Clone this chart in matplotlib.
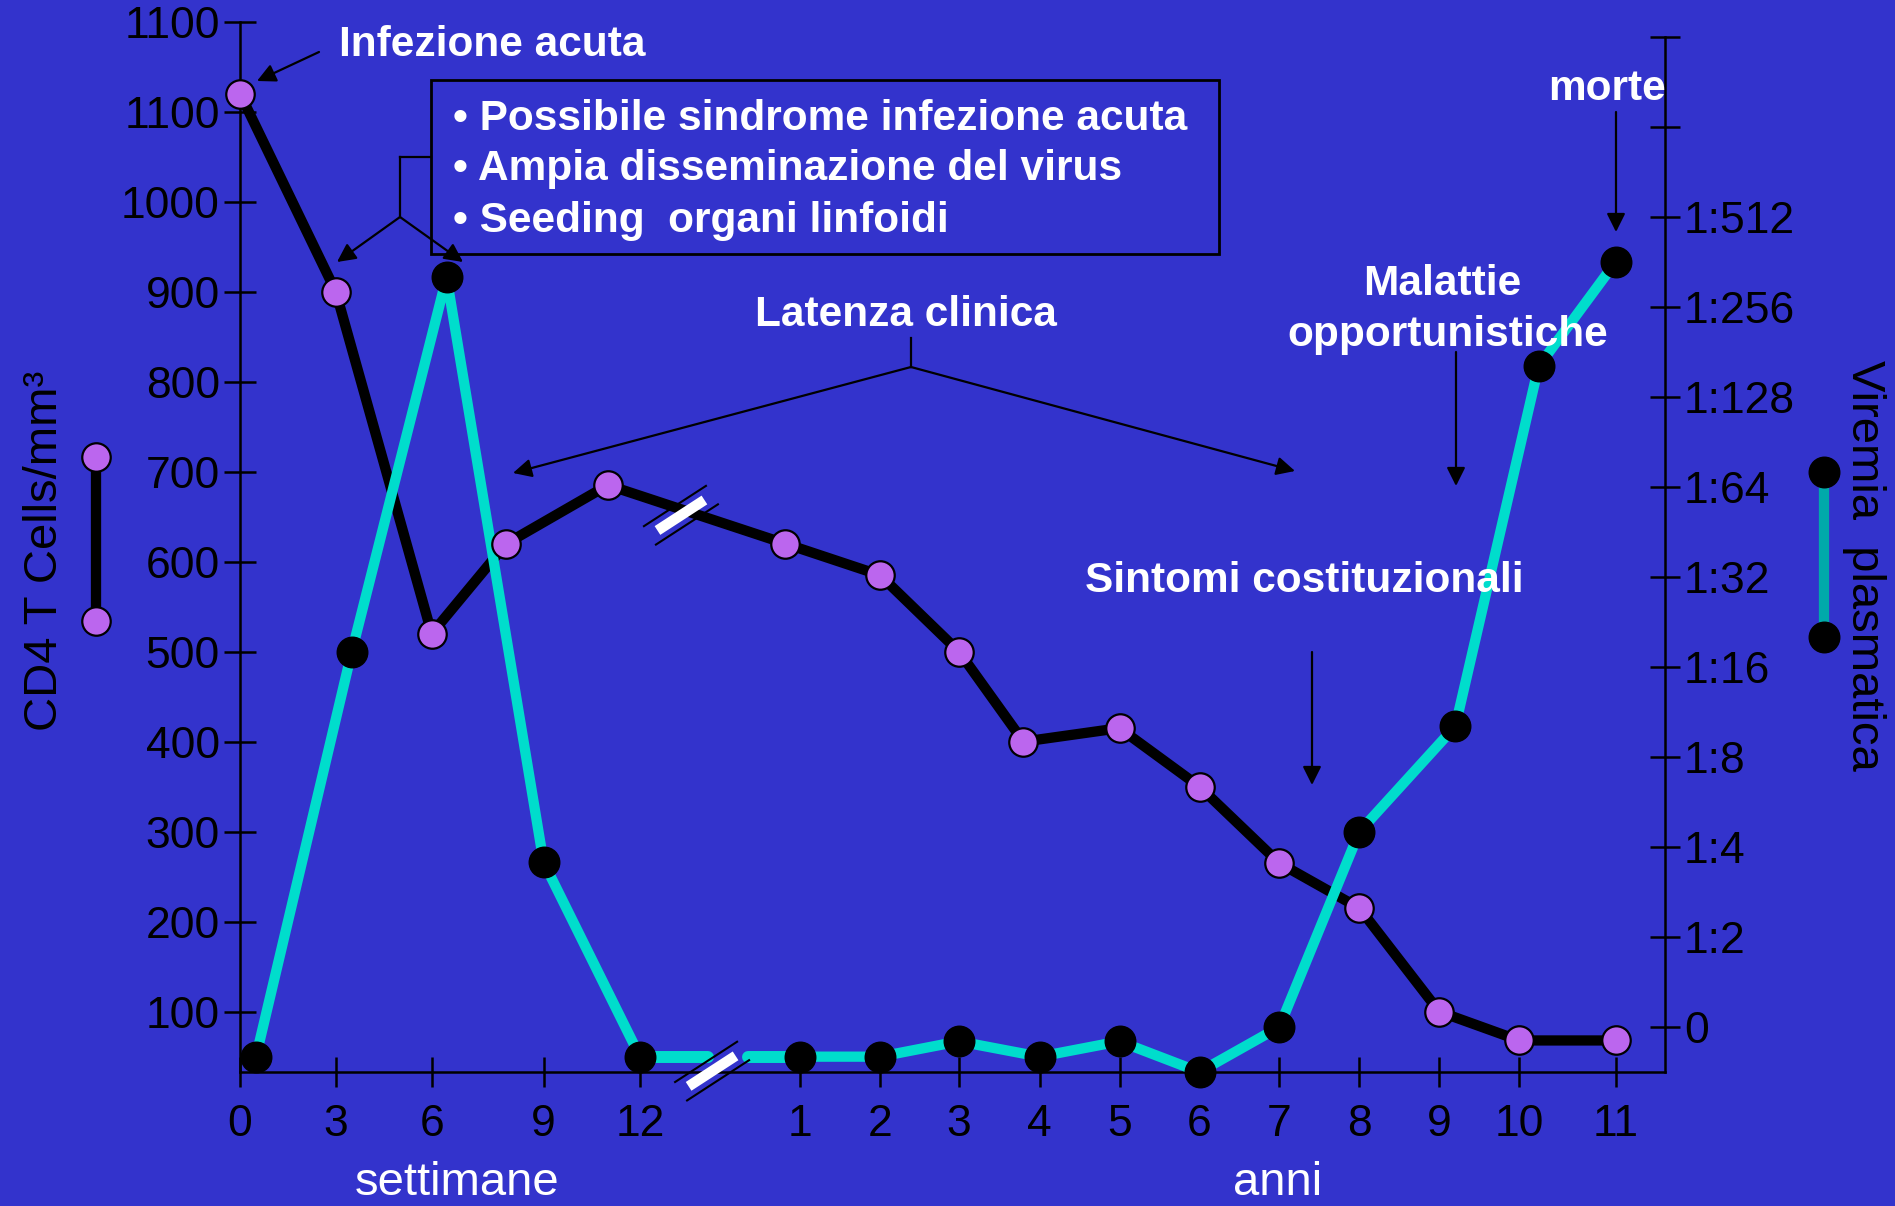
import numpy as np
import matplotlib
matplotlib.use("Agg")
import matplotlib.pyplot as plt
from matplotlib.lines import Line2D
from matplotlib.patches import Rectangle, FancyArrowPatch

plt.rcParams["font.family"] = ["Liberation Sans", "DejaVu Sans"]

W, H = 1895, 1206
BG = "#3333CC"
CYAN = "#00DDCC"
TEAL = "#00AAAA"
PURPLE = "#BB66EE"

# CD4 T cells/mm3 (left axis) - first weeks, then years
cd4_weeks = [0, 3, 6, 8, 11]
cd4_weeks_val = [1120, 900, 520, 620, 685]
cd4_years = [0.93, 2, 3, 3.8, 5, 6, 7, 8, 9, 10, 11]
cd4_years_val = [620, 585, 500, 400, 415, 350, 265, 215, 100, 68, 68]

# plasma viremia in doubling steps (0 = "0", 1 = 1:2 ... 9 = 1:512)
vir_weeks = [0.5, 3.5, 6.4, 9, 12]
vir_weeks_val = [-0.33, 4.17, 8.33, 1.83, -0.33]
vir_years = [1, 2, 3, 4, 5, 6, 7, 8, 9.2, 10.2, 11]
vir_years_val = [-0.33, -0.33, -0.16, -0.33, -0.16, -0.5, 0.0, 2.17, 3.34, 7.34, 8.5]

week_ticks = [0, 3, 6, 9, 12]
year_ticks = [1, 2, 3, 4, 5, 6, 7, 8, 9, 10, 11]
left_ticks = [100, 200, 300, 400, 500, 600, 700, 800, 900, 1000, 1100, 1200]
left_labels = ["100", "200", "300", "400", "500", "600", "700", "800", "900",
               "1000", "1100", "1100"]
right_ticks = list(range(12))
right_labels = ["0", "1:2", "1:4", "1:8", "1:16", "1:32", "1:64", "1:128",
                "1:256", "1:512", "", ""]

# hand drawn time axis: tick spacing is not regular in the original slide
anchor_t = [w / 52 for w in week_ticks] + year_ticks + [11.51]
anchor_u = [240, 335.8, 431.7, 543.6, 640, 799.7, 880, 959, 1039.6, 1119.5,
            1199.5, 1279.4, 1359.4, 1439.3, 1519.3, 1615.7, 1664.6]


def fwd(t):
    return np.interp(t, anchor_t, anchor_u)


def inv(u):
    return np.interp(u, anchor_u, anchor_t)


# right axis step -> left axis units (one step = 100 cells)
def lvl(v):
    return 83 + 100 * np.asarray(v, dtype=float)


def px(x, y):  # image pixel -> figure fraction
    return (x / W, 1 - y / H)


fig = plt.figure(figsize=(W / 100, H / 100), dpi=100)
fig.patch.set_facecolor(BG)

x0, x1, ytop, ybot = 240, 1664.6, 21.6, 1071.6
ax = fig.add_axes([x0 / W, 1 - ybot / H, (x1 - x0) / W, (ybot - ytop) / H])
ax.set_facecolor("none")
ax.set_xscale("function", functions=(fwd, inv))
ax.set_xlim(0, 11.51)
ax.set_ylim(33.4, 1200)
ax2 = ax.twinx()
ax2.set_ylim(-0.496, 11.17)
ax2.set_facecolor("none")
ax.set_zorder(2)
ax2.set_zorder(1)

for s in ["top", "right"]:
    ax.spines[s].set_visible(False)
for s in ["top", "left", "bottom"]:
    ax2.spines[s].set_visible(False)
for sp in [ax.spines["left"], ax.spines["bottom"], ax2.spines["right"]]:
    sp.set_linewidth(1.8)
    sp.set_color("black")
ax2.spines["right"].set_bounds(-0.496, 11)

ax.set_xticks([w / 52 for w in week_ticks] + year_ticks)
ax.set_xticklabels([str(v) for v in week_ticks + year_ticks])
ax.set_yticks(left_ticks)
ax.set_yticklabels(left_labels)
ax2.set_yticks(right_ticks)
ax2.set_yticklabels(right_labels)
ax.tick_params(axis="y", direction="inout", length=23, width=1.8, labelsize=32, pad=3)
ax.tick_params(axis="x", direction="inout", length=22, width=1.8, labelsize=32, pad=12)
ax2.tick_params(axis="y", direction="inout", length=22, width=1.8, labelsize=32, pad=3)

# CD4 line (black), continuous across the break
cd4_t = [w / 52 for w in cd4_weeks] + cd4_years
cd4_v = cd4_weeks_val + cd4_years_val
ax.plot(cd4_t, cd4_v, color="black", lw=7.4, solid_joinstyle="round", zorder=2)

# viremia line (cyan), gap at the break
gap_a, gap_b = 0.558, 0.751
vir_wt = [w / 52 for w in vir_weeks]
ax.plot(vir_wt, lvl(vir_weeks_val), color=CYAN, lw=7.4, solid_joinstyle="round", zorder=3)
ax.plot([vir_wt[-1], gap_a], lvl([vir_weeks_val[-1]] * 2), color=CYAN, lw=8.6,
        solid_capstyle="round", zorder=3)
ax.plot([gap_b, vir_years[0]], lvl([vir_years_val[0]] * 2), color=CYAN, lw=8.6,
        solid_capstyle="round", zorder=3)
ax.plot(vir_years, lvl(vir_years_val), color=CYAN, lw=7.4, solid_joinstyle="round", zorder=3)

ax.plot(vir_wt + vir_years, lvl(vir_weeks_val + vir_years_val), ls="none", marker="o",
        ms=22, mfc="black", mec="black", zorder=5, clip_on=False)
ax.plot(cd4_t, cd4_v, ls="none", marker="o", ms=20.5, mfc=PURPLE, mec="black",
        mew=1.6, zorder=6, clip_on=False)


def break_mark(cx, cy, ang=33):
    d = np.array([np.cos(np.radians(ang)), np.sin(np.radians(ang))])
    n = np.array([-d[1], d[0]])
    for off, half, col, lw in [(11, 38, "black", 1.5), (-11, 38, "black", 1.5),
                               (0, 28, "white", 7.5)]:
        c = np.array([cx, cy]) + off * n
        p0, p1 = c - half * d, c + half * d
        fig.add_artist(Line2D([p0[0] / W, p1[0] / W], [p0[1] / H, p1[1] / H],
                              transform=fig.transFigure, color=col, lw=lw,
                              solid_capstyle="butt", zorder=10))


fig.canvas.draw()
pa = ax.transData.transform((cd4_t[len(cd4_weeks) - 1], cd4_weeks_val[-1]))
pb = ax.transData.transform((cd4_years[0], cd4_years_val[0]))
bx = ax.transData.transform((0.428, 500))[0]
break_mark(bx, np.interp(bx, [pa[0], pb[0]], [pa[1], pb[1]]) - 6)
break_mark(ax.transData.transform((0.578, 500))[0], H - ybot + 0.5)

# legend keys beside the axis titles
fig.add_artist(Line2D([96.2 / W] * 2, [1 - 456.6 / H, 1 - 621 / H], color="black",
                      lw=7.4, marker="o", ms=20.5, mfc=PURPLE, mec="black", mew=1.6,
                      transform=fig.transFigure, zorder=10))
fig.add_artist(Line2D([1824 / W] * 2, [1 - 471.7 / H, 1 - 636.7 / H], color=TEAL,
                      lw=7.4, marker="o", ms=22, mfc="black", mec="black",
                      transform=fig.transFigure, zorder=10))

fig.text(*px(45, 551), "CD4 T Cells/mm³", rotation=90, fontsize=34,
         ha="center", va="center", color="black")
fig.text(*px(1864, 565), "Viremia  plasmatica", rotation=270, fontsize=34,
         ha="center", va="center", color="black")

bold = dict(color="white", fontsize=30.5, fontweight="bold", zorder=11)
fig.text(*px(339, 55.5), "Infezione acuta", ha="left", va="baseline", **bold)
fig.text(*px(453, 130), "• Possibile sindrome infezione acuta", ha="left", va="baseline", **bold)
fig.text(*px(453, 180), "• Ampia disseminazione del virus", ha="left", va="baseline", **bold)
fig.text(*px(453, 232), "• Seeding  organi linfoidi", ha="left", va="baseline", **bold)
fig.text(*px(906, 326), "Latenza clinica", ha="center", va="baseline", **bold)
fig.text(*px(1442, 295), "Malattie", ha="center", va="baseline", **bold)
fig.text(*px(1448, 346), "opportunistiche", ha="center", va="baseline", **bold)
fig.text(*px(1607, 100), "morte", ha="center", va="baseline", **bold)
fig.text(*px(1304, 592), "Sintomi costituzionali", ha="center", va="baseline", **bold)
fig.text(*px(457, 1195), "settimane", ha="center", va="baseline", color="white", fontsize=34)
fig.text(*px(1278, 1195), "anni", ha="center", va="baseline", color="white", fontsize=34)

fig.add_artist(Rectangle(px(431, 254), (1219 - 431) / W, (254 - 80) / H, fill=False,
                         ec="black", lw=2, transform=fig.transFigure, zorder=10))


def seg(xa, ya, xb, yb):
    fig.add_artist(Line2D([xa / W, xb / W], [1 - ya / H, 1 - yb / H], color="black",
                          lw=1.6, transform=fig.transFigure, zorder=10))


def arrow(xa, ya, xb, yb):
    fig.add_artist(FancyArrowPatch(px(xa, ya), px(xb, yb), transform=fig.transFigure,
                                   arrowstyle="-|>", mutation_scale=28, lw=1.6,
                                   color="black", shrinkA=0, shrinkB=0, zorder=10))


arrow(319, 52, 257, 81)
seg(431, 157, 400, 157)
seg(400, 157, 400, 217)
arrow(400, 217, 337, 262)
arrow(400, 217, 463, 262)
seg(911, 338, 911, 367)
arrow(911, 367, 513, 473)
arrow(911, 367, 1295, 471)
arrow(1456, 352, 1456, 486)
arrow(1616, 112, 1616, 232)
arrow(1312, 652, 1312, 785)

fig.savefig("out.png", dpi=100, facecolor=BG)
